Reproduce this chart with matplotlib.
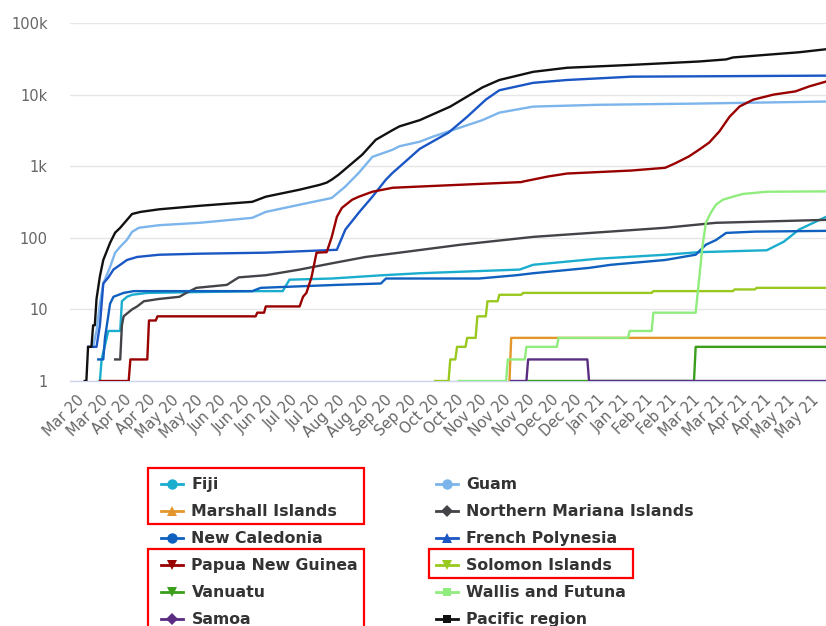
import pandas as pd
import matplotlib
matplotlib.use("Agg")
import matplotlib.pyplot as plt
import matplotlib.dates as mdates
import matplotlib.transforms as mtransforms
from matplotlib.lines import Line2D
from matplotlib.patches import Rectangle
from matplotlib.ticker import FixedLocator, FixedFormatter, NullLocator


W, H = 826, 626

# Cumulative confirmed cases, (date, total) at each change point
FIJI = [
    ("2020-03-19", 1), ("2020-03-20", 2), ("2020-03-24", 5), ("2020-03-31", 5),
    ("2020-04-01", 13), ("2020-04-04", 15), ("2020-04-07", 16), ("2020-04-16", 17),
    ("2020-06-20", 18), ("2020-07-05", 18), ("2020-07-09", 26), ("2020-08-03", 27),
    ("2020-09-02", 30), ("2020-09-24", 32), ("2020-11-22", 36), ("2020-11-30", 42),
    ("2021-01-07", 51), ("2021-02-16", 58), ("2021-03-08", 63), ("2021-04-17", 67),
    ("2021-04-27", 88), ("2021-05-06", 130), ("2021-05-22", 196),
]
GUAM = [
    ("2020-03-15", 3), ("2020-03-17", 5), ("2020-03-19", 12), ("2020-03-21", 23),
    ("2020-03-25", 39), ("2020-03-28", 62), ("2020-03-31", 75), ("2020-04-04", 94),
    ("2020-04-07", 121), ("2020-04-11", 138), ("2020-04-23", 150), ("2020-05-17", 162),
    ("2020-06-17", 190), ("2020-06-25", 230), ("2020-07-15", 290), ("2020-08-03", 360),
    ("2020-08-11", 520), ("2020-08-19", 810), ("2020-08-27", 1350), ("2020-09-08", 1700),
    ("2020-09-12", 1900), ("2020-09-24", 2200), ("2020-10-02", 2600), ("2020-10-31", 4400),
    ("2020-11-10", 5600), ("2020-11-30", 6800), ("2021-01-07", 7200), ("2021-03-08", 7500),
    ("2021-05-22", 8000),
]
MARSHALL = [("2020-11-16", 1), ("2020-11-17", 4), ("2021-05-22", 4)]
NMI = [
    ("2020-03-28", 2), ("2020-03-31", 2), ("2020-04-01", 6), ("2020-04-02", 8),
    ("2020-04-07", 10), ("2020-04-10", 11), ("2020-04-14", 13), ("2020-04-23", 14),
    ("2020-05-05", 15), ("2020-05-09", 17), ("2020-05-15", 20), ("2020-06-02", 22),
    ("2020-06-09", 28), ("2020-06-25", 30), ("2020-07-15", 36), ("2020-08-03", 44),
    ("2020-08-23", 54), ("2020-09-12", 62), ("2020-10-18", 80), ("2020-11-30", 103),
    ("2021-02-16", 138), ("2021-03-18", 162), ("2021-05-22", 178),
]
NEW_CALEDONIA = [
    ("2020-03-18", 2), ("2020-03-21", 2), ("2020-03-22", 4), ("2020-03-25", 12),
    ("2020-03-27", 15), ("2020-04-02", 17), ("2020-04-08", 18), ("2020-06-17", 18),
    ("2020-06-22", 20), ("2020-07-15", 21), ("2020-08-06", 22), ("2020-09-01", 23),
    ("2020-09-04", 27), ("2020-10-29", 27), ("2020-11-20", 30), ("2020-11-30", 32),
    ("2021-01-02", 38), ("2021-01-15", 42), ("2021-02-16", 49), ("2021-03-06", 58),
    ("2021-03-12", 80), ("2021-03-18", 93), ("2021-03-24", 117), ("2021-04-10", 122),
    ("2021-05-22", 125),
]
FRENCH_POLYNESIA = [
    ("2020-03-12", 3), ("2020-03-17", 3), ("2020-03-19", 6), ("2020-03-21", 23),
    ("2020-03-24", 28), ("2020-03-27", 36), ("2020-03-31", 42), ("2020-04-04", 49),
    ("2020-04-10", 54), ("2020-04-23", 58), ("2020-05-17", 60), ("2020-06-25", 62),
    ("2020-08-06", 68), ("2020-08-11", 130), ("2020-08-19", 225), ("2020-08-27", 375),
    ("2020-09-04", 650), ("2020-09-08", 810), ("2020-09-12", 980), ("2020-09-24", 1750),
    ("2020-10-11", 2950), ("2020-10-22", 4900), ("2020-11-02", 8500), ("2020-11-10", 11500),
    ("2020-11-30", 14600), ("2020-12-20", 16000), ("2021-01-27", 17800), ("2021-05-22", 18400),
]
PNG = [
    ("2020-03-19", 1), ("2020-04-05", 1), ("2020-04-06", 2), ("2020-04-16", 2),
    ("2020-04-17", 7), ("2020-04-21", 7), ("2020-04-22", 8), ("2020-06-19", 8),
    ("2020-06-20", 9), ("2020-06-24", 9), ("2020-06-25", 11), ("2020-07-15", 11),
    ("2020-07-17", 15), ("2020-07-19", 17), ("2020-07-22", 28), ("2020-07-25", 62),
    ("2020-07-31", 63), ("2020-08-03", 103), ("2020-08-06", 196), ("2020-08-09", 262),
    ("2020-08-15", 340), ("2020-08-19", 375), ("2020-08-27", 440), ("2020-09-08", 500),
    ("2020-09-24", 520), ("2020-11-23", 600), ("2020-11-24", 610), ("2020-12-09", 720),
    ("2020-12-20", 790), ("2021-01-27", 870), ("2021-02-16", 950), ("2021-02-22", 1100),
    ("2021-03-02", 1370), ("2021-03-08", 1700), ("2021-03-14", 2140), ("2021-03-20", 3060),
    ("2021-03-26", 4900), ("2021-04-01", 6840), ("2021-04-09", 8500), ("2021-04-21", 10000),
    ("2021-05-04", 11100), ("2021-05-12", 13000), ("2021-05-22", 15200),
]
SOLOMON = [
    ("2020-10-03", 1), ("2020-10-11", 1), ("2020-10-12", 2), ("2020-10-15", 2),
    ("2020-10-16", 3), ("2020-10-21", 3), ("2020-10-22", 4), ("2020-10-27", 4),
    ("2020-10-28", 8), ("2020-11-02", 8), ("2020-11-03", 13), ("2020-11-09", 13),
    ("2020-11-10", 16), ("2020-11-23", 16), ("2020-11-24", 17), ("2021-02-08", 17),
    ("2021-02-09", 18), ("2021-03-28", 18), ("2021-03-29", 19), ("2021-04-10", 19),
    ("2021-04-11", 20), ("2021-05-22", 20),
]
VANUATU = [("2020-11-27", 1), ("2021-03-05", 1), ("2021-03-06", 3), ("2021-05-22", 3)]
WALLIS = [
    ("2020-10-17", 1), ("2020-11-14", 1), ("2020-11-15", 2), ("2020-11-25", 2),
    ("2020-11-26", 3), ("2020-12-14", 3), ("2020-12-15", 4), ("2021-01-25", 4),
    ("2021-01-26", 5), ("2021-02-08", 5), ("2021-02-09", 9), ("2021-03-06", 9),
    ("2021-03-08", 26), ("2021-03-10", 75), ("2021-03-12", 162), ("2021-03-15", 225),
    ("2021-03-18", 290), ("2021-03-22", 340), ("2021-03-28", 375), ("2021-04-03", 410),
    ("2021-04-17", 440), ("2021-05-22", 445),
]
SAMOA = [
    ("2020-11-17", 1), ("2020-11-26", 1), ("2020-11-27", 2), ("2021-01-01", 2),
    ("2021-01-02", 1), ("2021-05-22", 1),
]
PACIFIC = [
    ("2020-03-10", 1), ("2020-03-11", 1), ("2020-03-12", 3), ("2020-03-14", 3),
    ("2020-03-15", 6), ("2020-03-16", 6), ("2020-03-17", 14), ("2020-03-19", 29),
    ("2020-03-21", 49), ("2020-03-25", 85), ("2020-03-28", 118), ("2020-03-31", 138),
    ("2020-04-04", 178), ("2020-04-07", 215), ("2020-04-12", 230), ("2020-04-23", 250),
    ("2020-05-17", 280), ("2020-06-17", 318), ("2020-06-25", 375), ("2020-07-15", 470),
    ("2020-07-27", 550), ("2020-07-31", 590), ("2020-08-03", 650), ("2020-08-07", 760),
    ("2020-08-21", 1450), ("2020-08-29", 2340), ("2020-09-08", 3200), ("2020-09-12", 3600),
    ("2020-09-24", 4400), ("2020-10-12", 6800), ("2020-10-22", 9400), ("2020-10-31", 12600),
    ("2020-11-10", 16000), ("2020-11-30", 20800), ("2020-12-20", 23700), ("2021-01-27", 26000),
    ("2021-03-08", 29000), ("2021-03-24", 31000), ("2021-03-28", 33000), ("2021-04-17", 36000),
    ("2021-05-06", 39000), ("2021-05-22", 43000),
]

SERIES = {
    "Fiji": FIJI,
    "Guam": GUAM,
    "Marshall Islands": MARSHALL,
    "Northern Mariana Islands": NMI,
    "New Caledonia": NEW_CALEDONIA,
    "French Polynesia": FRENCH_POLYNESIA,
    "Papua New Guinea": PNG,
    "Solomon Islands": SOLOMON,
    "Vanuatu": VANUATU,
    "Wallis and Futuna": WALLIS,
    "Samoa": SAMOA,
    "Pacific region": PACIFIC,
}

COLORS = {
    "Fiji": "#1aadce",
    "Guam": "#7cb5ec",
    "Marshall Islands": "#e3962b",
    "Northern Mariana Islands": "#434348",
    "New Caledonia": "#0f60bf",
    "French Polynesia": "#1a56c4",
    "Papua New Guinea": "#990000",
    "Solomon Islands": "#99c91f",
    "Vanuatu": "#3c9f1c",
    "Wallis and Futuna": "#90ed7d",
    "Samoa": "#5a2d82",
    "Pacific region": "#111111",
}
MARKERS = {
    "Fiji": "o", "Guam": "o", "Marshall Islands": "^",
    "Northern Mariana Islands": "D", "New Caledonia": "o", "French Polynesia": "^",
    "Papua New Guinea": "v", "Solomon Islands": "v", "Vanuatu": "v",
    "Wallis and Futuna": "s", "Samoa": "D", "Pacific region": "s",
}

LEGEND_LEFT = ["Fiji", "Marshall Islands", "New Caledonia",
               "Papua New Guinea", "Vanuatu", "Samoa"]
LEGEND_RIGHT = ["Guam", "Northern Mariana Islands", "French Polynesia",
                "Solomon Islands", "Wallis and Futuna", "Pacific region"]
HIGHLIGHTED = [["Fiji", "Marshall Islands"],
               ["Papua New Guinea", "Vanuatu", "Samoa"],
               ["Solomon Islands"]]

Y_TICKS = [1, 10, 100, 1000, 10000, 100000]
Y_LABELS = ["1", "10", "100", "1k", "10k", "100k"]
X_TICK_START, X_TICK_END = "2020-03-09", "2021-05-17"


def legend_handle(name):
    ms = 6 if MARKERS[name] in ("D", "s") else 7.5
    return Line2D([0], [0], color=COLORS[name], lw=2, marker=MARKERS[name],
                  markersize=ms, markeredgewidth=0)


def main():
    fig = plt.figure(figsize=(W / 100, H / 100), dpi=100)
    ax = fig.add_axes([70 / W, 1 - 381 / H, 756 / W, 358 / H])

    for z, (name, rows) in enumerate(SERIES.items()):
        df = pd.DataFrame(rows, columns=["date", "cases"])
        ax.plot(pd.to_datetime(df["date"]), df["cases"], color=COLORS[name],
                lw=1.7, solid_joinstyle="round", zorder=3 + z)

    ax.set_yscale("log")
    ax.set_ylim(1, 1e5)
    ax.yaxis.set_major_locator(FixedLocator(Y_TICKS))
    ax.yaxis.set_major_formatter(FixedFormatter(Y_LABELS))
    ax.yaxis.set_minor_locator(NullLocator())

    ax.set_xlim(pd.Timestamp("2020-03-01 08:00"), pd.Timestamp("2021-05-22"))
    ax.set_xticks(pd.date_range(X_TICK_START, X_TICK_END, freq="14D"))
    ax.xaxis.set_major_formatter(mdates.DateFormatter("%b %y"))
    ax.xaxis.set_minor_locator(NullLocator())

    ax.grid(axis="y", color="#e6e6e6", lw=1)
    ax.set_axisbelow(True)
    for side in ("top", "right", "left"):
        ax.spines[side].set_visible(False)
    ax.spines["bottom"].set_color("#ccd6eb")
    ax.spines["bottom"].set_linewidth(1)

    ax.tick_params(axis="y", length=0, pad=16, labelsize=10.5, labelcolor="#666666")
    ax.tick_params(axis="x", length=0, pad=12, labelsize=10.5, labelcolor="#666666")
    shift = mtransforms.ScaledTranslation(-1 / 100, 0, fig.dpi_scale_trans)
    for lbl in ax.get_xticklabels():
        lbl.set_rotation(45)
        lbl.set_ha("right")
        lbl.set_va("center")
        lbl.set_rotation_mode("anchor")
        lbl.set_transform(lbl.get_transform() + shift)

    leg_kw = dict(loc="upper left", frameon=False, ncol=1, borderpad=0,
                  borderaxespad=0, handlelength=1.42, handletextpad=0.52,
                  labelspacing=0.77, labelcolor="#333333",
                  prop={"weight": "bold", "size": 11.3})
    legs = []
    for names, x0 in ((LEGEND_LEFT, 161), (LEGEND_RIGHT, 436)):
        leg = fig.legend([legend_handle(n) for n in names], names,
                         bbox_to_anchor=(x0 / W, 1 - 477 / H), **leg_kw)
        legs.append(leg)

    # red outlines around selected legend entries
    fig.canvas.draw()
    renderer = fig.canvas.get_renderer()
    texts = {t.get_text(): t.get_window_extent(renderer)
             for leg in legs for t in leg.get_texts()}
    col1_right = max(texts[n].x1 for n in LEGEND_LEFT)
    for names in HIGHLIGHTED:
        first, last = texts[names[0]], texts[names[-1]]
        if names[0] in LEGEND_LEFT:
            x0, x1 = first.x0 - 43, col1_right + 6
        else:
            x0, x1 = first.x0 - 37, max(texts[n].x1 for n in names) + 21
        top = (first.y0 + first.y1) / 2 + 16.5
        bottom = (last.y0 + last.y1) / 2 - 12
        fig.add_artist(Rectangle((x0 / W, bottom / H), (x1 - x0) / W,
                                 (top - bottom) / H, transform=fig.transFigure,
                                 fill=False, edgecolor="#ff0000", lw=1.6,
                                 clip_on=False))

    fig.savefig("out.png", dpi=100)


if __name__ == "__main__":
    main()
